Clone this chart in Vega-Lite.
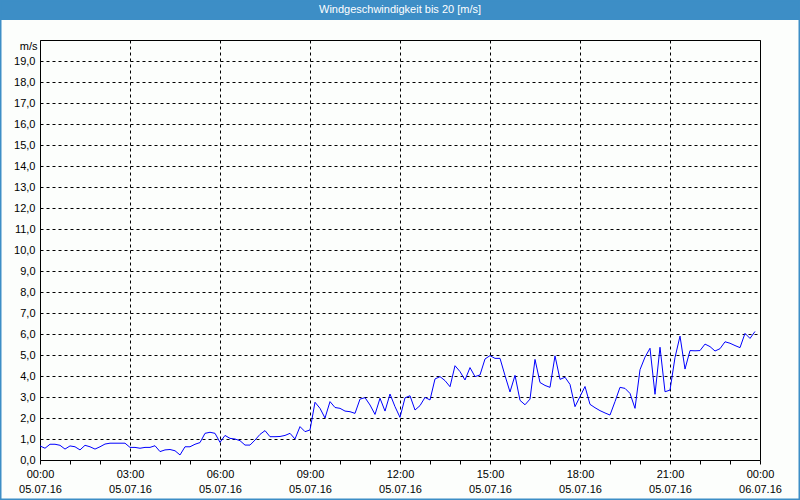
{
  "$schema": "https://vega.github.io/schema/vega-lite/v6.json",
  "background": "#fcfefc",
  "autosize": {"type": "none"},
  "padding": {"left": 40, "top": 40, "right": 40, "bottom": 40},
  "width": 720,
  "height": 420,
  "config": {
    "font": "Liberation Sans",
    "view": {"stroke": "black", "strokeWidth": 1}
  },
  "resolve": {"axis": {"x": "independent", "y": "independent"}},
  "layer": [
    {
      "data": {"values": [
        {"min": 0, "v": 0.67}, {"min": 10, "v": 0.56}, {"min": 20, "v": 0.75}, {"min": 30, "v": 0.75}, {"min": 40, "v": 0.7}, {"min": 50, "v": 0.52},
        {"min": 60, "v": 0.67}, {"min": 70, "v": 0.63}, {"min": 80, "v": 0.48}, {"min": 90, "v": 0.7}, {"min": 100, "v": 0.63}, {"min": 110, "v": 0.52},
        {"min": 120, "v": 0.63}, {"min": 130, "v": 0.76}, {"min": 140, "v": 0.8}, {"min": 150, "v": 0.8}, {"min": 160, "v": 0.8}, {"min": 170, "v": 0.8},
        {"min": 180, "v": 0.6}, {"min": 190, "v": 0.6}, {"min": 200, "v": 0.56}, {"min": 210, "v": 0.6}, {"min": 220, "v": 0.6}, {"min": 230, "v": 0.68},
        {"min": 240, "v": 0.4}, {"min": 250, "v": 0.48}, {"min": 260, "v": 0.5}, {"min": 270, "v": 0.44}, {"min": 280, "v": 0.24}, {"min": 290, "v": 0.63},
        {"min": 300, "v": 0.63}, {"min": 310, "v": 0.75}, {"min": 320, "v": 0.83}, {"min": 330, "v": 1.27}, {"min": 340, "v": 1.32}, {"min": 350, "v": 1.27},
        {"min": 360, "v": 0.84}, {"min": 370, "v": 1.17}, {"min": 380, "v": 1.03}, {"min": 390, "v": 1.0}, {"min": 400, "v": 0.92}, {"min": 410, "v": 0.71},
        {"min": 420, "v": 0.71}, {"min": 430, "v": 0.95}, {"min": 440, "v": 1.22}, {"min": 450, "v": 1.4}, {"min": 460, "v": 1.11}, {"min": 470, "v": 1.11},
        {"min": 480, "v": 1.12}, {"min": 490, "v": 1.17}, {"min": 500, "v": 1.27}, {"min": 510, "v": 1.0}, {"min": 520, "v": 1.59}, {"min": 530, "v": 1.35},
        {"min": 540, "v": 1.43}, {"min": 550, "v": 2.75}, {"min": 560, "v": 2.46}, {"min": 570, "v": 2.0}, {"min": 580, "v": 2.78}, {"min": 590, "v": 2.5},
        {"min": 600, "v": 2.46}, {"min": 610, "v": 2.33}, {"min": 620, "v": 2.3}, {"min": 630, "v": 2.22}, {"min": 640, "v": 2.9}, {"min": 650, "v": 2.97},
        {"min": 660, "v": 2.62}, {"min": 670, "v": 2.17}, {"min": 680, "v": 2.94}, {"min": 690, "v": 2.33}, {"min": 700, "v": 3.14}, {"min": 710, "v": 2.54},
        {"min": 720, "v": 2.03}, {"min": 730, "v": 2.96}, {"min": 740, "v": 3.06}, {"min": 750, "v": 2.38}, {"min": 760, "v": 2.59}, {"min": 770, "v": 2.98},
        {"min": 780, "v": 2.86}, {"min": 790, "v": 3.86}, {"min": 800, "v": 3.97}, {"min": 810, "v": 3.78}, {"min": 820, "v": 3.49}, {"min": 830, "v": 4.49},
        {"min": 840, "v": 4.21}, {"min": 850, "v": 3.81}, {"min": 860, "v": 4.4}, {"min": 870, "v": 3.97}, {"min": 880, "v": 4.05}, {"min": 890, "v": 4.81},
        {"min": 900, "v": 4.97}, {"min": 910, "v": 4.84}, {"min": 920, "v": 4.84}, {"min": 930, "v": 4.02}, {"min": 940, "v": 3.24}, {"min": 950, "v": 4.03},
        {"min": 960, "v": 2.84}, {"min": 970, "v": 2.63}, {"min": 980, "v": 2.9}, {"min": 990, "v": 4.79}, {"min": 1000, "v": 3.69}, {"min": 1010, "v": 3.55},
        {"min": 1020, "v": 3.46}, {"min": 1030, "v": 4.96}, {"min": 1040, "v": 3.84}, {"min": 1050, "v": 3.94}, {"min": 1060, "v": 3.6}, {"min": 1070, "v": 2.54},
        {"min": 1080, "v": 3.02}, {"min": 1090, "v": 3.5}, {"min": 1100, "v": 2.65}, {"min": 1110, "v": 2.49}, {"min": 1120, "v": 2.35}, {"min": 1130, "v": 2.24},
        {"min": 1140, "v": 2.14}, {"min": 1150, "v": 2.78}, {"min": 1160, "v": 3.46}, {"min": 1170, "v": 3.41}, {"min": 1180, "v": 3.17}, {"min": 1190, "v": 2.46},
        {"min": 1200, "v": 4.3}, {"min": 1210, "v": 4.9}, {"min": 1220, "v": 5.32}, {"min": 1230, "v": 3.13}, {"min": 1240, "v": 5.37}, {"min": 1250, "v": 3.25},
        {"min": 1260, "v": 3.33}, {"min": 1270, "v": 4.88}, {"min": 1280, "v": 5.9}, {"min": 1290, "v": 4.33}, {"min": 1300, "v": 5.21}, {"min": 1310, "v": 5.2},
        {"min": 1320, "v": 5.21}, {"min": 1330, "v": 5.52}, {"min": 1340, "v": 5.4}, {"min": 1350, "v": 5.19}, {"min": 1360, "v": 5.3}, {"min": 1370, "v": 5.63},
        {"min": 1380, "v": 5.56}, {"min": 1390, "v": 5.45}, {"min": 1400, "v": 5.35}, {"min": 1410, "v": 6.03}, {"min": 1420, "v": 5.79}, {"min": 1430, "v": 6.12}
      ]},
      "mark": {"type": "line", "color": "#0000ff", "strokeWidth": 1},
      "encoding": {
        "x": {
          "field": "min",
          "type": "quantitative",
          "scale": {"domain": [0, 1440], "nice": false, "zero": false},
          "axis": {
            "title": null,
            "domain": false,
            "values": [0, 60, 120, 180, 240, 300, 360, 420, 480, 540, 600, 660, 720, 780, 840, 900, 960, 1020, 1080, 1140, 1200, 1260, 1320, 1380, 1440],
            "grid": true,
            "gridColor": "black",
            "gridDash": [3, 3],
            "gridWidth": 1,
            "gridOpacity": {"condition": {"test": "datum.value % 180 == 0", "value": 1}, "value": 0},
            "ticks": true,
            "tickSize": 4,
            "tickColor": "black",
            "tickWidth": 1,
            "labelPadding": 4,
            "labelExpr": "datum.value % 180 == 0 ? [((datum.value < 600 || datum.value == 1440) ? '0' : '') + (floor(datum.value / 60) % 24) + ':00', datum.value >= 1440 ? '06.07.16' : '05.07.16'] : ''",
            "labelOverlap": false,
            "labelFlush": false,
            "labelFont": "Liberation Sans",
            "labelFontSize": 11,
            "labelColor": "black",
            "labelLineHeight": 15,
            "labelBaseline": "top"
          }
        },
        "y": {
          "field": "v",
          "type": "quantitative",
          "scale": {"domain": [0, 20], "nice": false},
          "axis": {
            "values": [0, 1, 2, 3, 4, 5, 6, 7, 8, 9, 10, 11, 12, 13, 14, 15, 16, 17, 18, 19],
            "title": "m/s",
            "titleAngle": 0,
            "titleAlign": "right",
            "titleBaseline": "alphabetic",
            "titleX": -3,
            "titleY": 9,
            "titleFont": "Liberation Sans",
            "titleFontSize": 11,
            "titleFontWeight": "normal",
            "titleColor": "black",
            "domain": false,
            "ticks": false,
            "tickSize": 0,
            "grid": true,
            "gridColor": "black",
            "gridDash": [3, 3],
            "gridWidth": 1,
            "labelPadding": 5,
            "labelOverlap": false,
            "labelExpr": "replace(format(datum.value, '.1f'), '.', ',')",
            "labelFont": "Liberation Sans",
            "labelFontSize": 11,
            "labelColor": "black"
          }
        }
      }
    },
    {
      "data": {"values": [{"part": "header"}]},
      "mark": {"type": "rect", "color": "#3d8ec6", "clip": false},
      "encoding": {
        "x": {"datum": -80, "type": "quantitative", "axis": null},
        "x2": {"datum": 1520},
        "y": {"datum": 21.905, "type": "quantitative", "axis": null},
        "y2": {"datum": 20.952}
      }
    },
    {
      "data": {"values": [{"part": "frame"}]},
      "mark": {"type": "rect", "fill": null, "filled": false, "stroke": "#3d8ec6", "strokeWidth": 3, "clip": false},
      "encoding": {
        "x": {"datum": -80, "type": "quantitative", "axis": null},
        "x2": {"datum": 1520},
        "y": {"datum": 21.905, "type": "quantitative", "axis": null},
        "y2": {"datum": -1.905}
      }
    },
    {
      "data": {"values": [{"title": "Windgeschwindigkeit bis 20 [m/s]"}]},
      "mark": {"type": "text", "color": "white", "fontSize": 11, "font": "Liberation Sans", "align": "center", "baseline": "middle", "clip": false},
      "encoding": {
        "x": {"datum": 720, "type": "quantitative", "axis": null},
        "y": {"datum": 21.45, "type": "quantitative", "axis": null},
        "text": {"field": "title", "type": "nominal"}
      }
    }
  ]
}
